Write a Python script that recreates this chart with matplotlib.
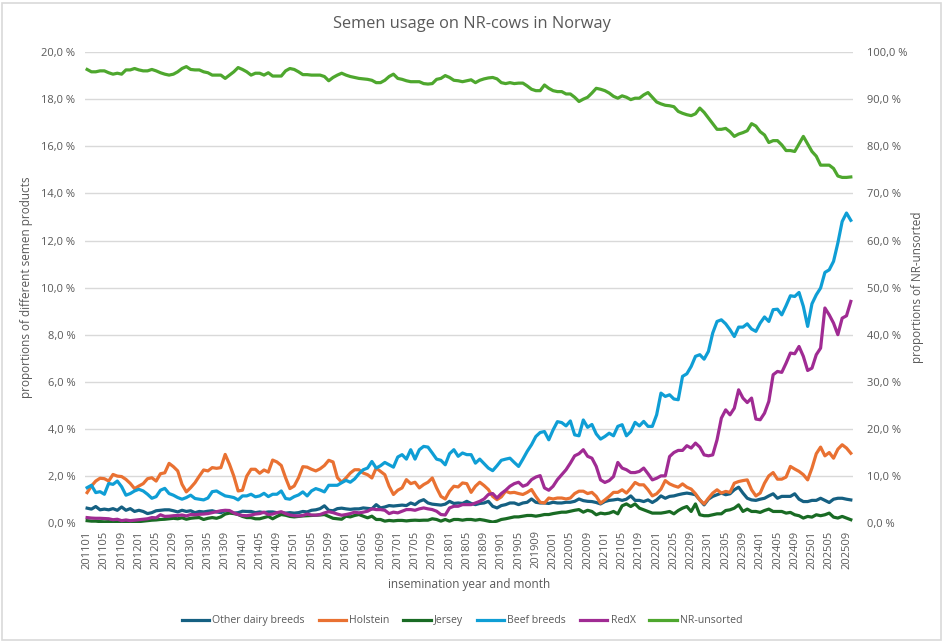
import pandas as pd
import matplotlib
matplotlib.use('Agg')
import matplotlib.pyplot as plt
from matplotlib.patches import Rectangle
from matplotlib.ticker import FuncFormatter, MultipleLocator

plt.rcParams['font.family'] = ['Open Sans', 'DejaVu Sans']

#%% data (% of inseminations)

months = [p.strftime('%Y%m') for p in pd.period_range('2011-01', '2025-10', freq='M')]

other_dairy = [
    0.65, 0.61, 0.72, 0.58, 0.61, 0.58, 0.63, 0.56, 0.70, 0.56, 0.63, 0.51,
    0.56, 0.51, 0.42, 0.46, 0.54, 0.56, 0.58, 0.58, 0.54, 0.49, 0.56, 0.51,
    0.54, 0.46, 0.51, 0.49, 0.52, 0.54, 0.49, 0.46, 0.54, 0.51, 0.44, 0.46,
    0.52, 0.51, 0.51, 0.46, 0.49, 0.46, 0.49, 0.49, 0.46, 0.46, 0.44, 0.46,
    0.44, 0.46, 0.51, 0.49, 0.56, 0.58, 0.63, 0.75, 0.56, 0.54, 0.63, 0.65,
    0.62, 0.60, 0.62, 0.62, 0.66, 0.64, 0.62, 0.80, 0.66, 0.70, 0.76, 0.74,
    0.76, 0.78, 0.76, 0.87, 0.80, 0.94, 1.01, 0.87, 0.82, 0.80, 0.78, 0.82,
    0.94, 0.85, 0.87, 0.85, 0.94, 0.85, 0.80, 0.85, 0.87, 0.94, 0.73, 0.66,
    0.76, 0.80, 0.87, 0.87, 0.80, 0.87, 0.90, 1.04, 0.90, 0.87, 0.87, 0.85,
    0.90, 0.87, 0.87, 0.90, 0.90, 0.94, 1.04, 0.97, 0.94,
    0.93, 0.89, 0.83, 0.93, 0.98, 1.00, 1.03, 0.98, 1.03, 1.17, 0.98, 0.98,
    0.93, 1.00, 0.89, 1.00, 1.17, 1.07, 1.15, 1.17, 1.22, 1.26, 1.29, 1.26,
    1.22, 1.00, 0.79, 1.03, 1.15, 1.22, 1.29, 1.22, 1.26, 1.43, 1.54, 1.29,
    1.07, 1.00, 0.98, 1.03, 1.07, 1.17, 1.26, 1.07, 1.15, 1.15, 1.15, 1.26,
    1.03, 0.93, 0.93, 0.98, 0.98, 1.07, 0.98, 0.89, 1.03, 1.07, 1.07, 1.03,
    1.00]

holstein = [
    1.31, 1.59, 1.80, 1.92, 1.90, 1.80, 2.08, 2.01, 1.99, 1.87, 1.70, 1.48,
    1.59, 1.69, 1.90, 1.94, 1.80, 2.11, 2.15, 2.55, 2.41, 2.23, 1.66, 1.34,
    1.52, 1.73, 2.01, 2.27, 2.23, 2.37, 2.34, 2.37, 2.93, 2.51, 2.01, 1.38,
    1.41, 2.01, 2.30, 2.30, 2.13, 2.27, 2.18, 2.69, 2.61, 2.46, 1.94, 1.48,
    1.59, 1.94, 2.41, 2.39, 2.30, 2.23, 2.32, 2.46, 2.68, 2.61, 1.95, 1.75,
    1.93, 2.14, 2.28, 2.28, 2.14, 2.07, 1.93, 2.35, 2.21, 2.07, 1.58, 1.23,
    1.41, 1.51, 1.86, 1.69, 1.75, 1.51, 1.65, 1.75, 1.93, 1.51, 1.15, 1.04,
    1.37, 1.58, 1.55, 1.72, 1.69, 1.32, 1.58, 1.75, 1.61, 1.44, 1.15, 1.01,
    1.13, 1.37, 1.30, 1.32, 1.27, 1.23, 1.32, 1.44, 1.15, 0.90, 0.87, 1.08,
    1.04, 1.08, 1.08, 1.04, 1.08, 1.27, 1.37, 1.37, 1.27,
    1.32, 1.15, 0.86, 1.00, 1.15, 1.32, 1.32, 1.43, 1.29, 1.50, 1.74, 1.64,
    1.64, 1.43, 1.17, 1.26, 1.46, 1.82, 1.68, 1.60, 1.54, 1.68, 1.54, 1.46,
    1.26, 1.00, 0.83, 1.07, 1.29, 1.43, 1.29, 1.36, 1.32, 1.71, 1.78, 1.82,
    1.85, 1.43, 1.17, 1.29, 1.71, 2.02, 2.16, 1.88, 1.88, 1.97, 2.42, 2.31,
    2.21, 2.07, 1.85, 2.35, 2.96, 3.24, 2.87, 3.01, 2.77, 3.15, 3.34, 3.20,
    2.98]

jersey = [
    0.12, 0.10, 0.10, 0.08, 0.07, 0.08, 0.06, 0.08, 0.05, 0.06, 0.07, 0.06,
    0.08, 0.10, 0.12, 0.14, 0.15, 0.17, 0.18, 0.20, 0.22, 0.20, 0.24, 0.18,
    0.22, 0.24, 0.25, 0.17, 0.22, 0.25, 0.22, 0.28, 0.40, 0.44, 0.42, 0.38,
    0.30, 0.25, 0.25, 0.20, 0.20, 0.25, 0.30, 0.20, 0.30, 0.38, 0.35, 0.30,
    0.28, 0.30, 0.32, 0.33, 0.34, 0.35, 0.36, 0.38, 0.30, 0.22, 0.20, 0.18,
    0.31, 0.28, 0.34, 0.38, 0.31, 0.24, 0.31, 0.17, 0.17, 0.10, 0.13, 0.11,
    0.13, 0.13, 0.11, 0.13, 0.14, 0.13, 0.14, 0.14, 0.20, 0.17, 0.10, 0.17,
    0.10, 0.17, 0.17, 0.14, 0.17, 0.17, 0.14, 0.17, 0.14, 0.10, 0.06, 0.10,
    0.17, 0.20, 0.24, 0.28, 0.28, 0.31, 0.34, 0.34, 0.31, 0.34, 0.38, 0.38,
    0.42, 0.45, 0.48, 0.48, 0.52, 0.56, 0.59, 0.48, 0.56,
    0.51, 0.37, 0.44, 0.41, 0.44, 0.51, 0.41, 0.75, 0.83, 0.72, 0.83, 0.65,
    0.58, 0.51, 0.44, 0.44, 0.44, 0.47, 0.51, 0.41, 0.55, 0.65, 0.72, 0.51,
    0.83, 0.37, 0.33, 0.33, 0.37, 0.41, 0.41, 0.55, 0.58, 0.65, 0.79, 0.51,
    0.61, 0.51, 0.51, 0.47, 0.55, 0.61, 0.51, 0.51, 0.51, 0.44, 0.47, 0.37,
    0.33, 0.23, 0.30, 0.27, 0.37, 0.33, 0.37, 0.44, 0.27, 0.23, 0.30, 0.23,
    0.16]

beef = [
    1.52, 1.62, 1.31, 1.35, 1.24, 1.70, 1.66, 1.80, 1.56, 1.20, 1.27, 1.38,
    1.45, 1.38, 1.24, 1.07, 1.14, 1.41, 1.49, 1.27, 1.20, 1.10, 1.03, 1.10,
    1.20, 1.06, 1.03, 1.00, 1.08, 1.35, 1.38, 1.27, 1.17, 1.14, 1.10, 1.00,
    1.17, 1.17, 1.24, 1.13, 1.17, 1.28, 1.14, 1.24, 1.24, 1.38, 1.06, 1.03,
    1.14, 1.21, 1.34, 1.17, 1.38, 1.48, 1.42, 1.34, 1.62, 1.62, 1.62, 1.73,
    1.83, 1.75, 1.89, 2.11, 2.28, 2.35, 2.63, 2.35, 2.45, 2.59, 2.49, 2.39,
    2.82, 2.92, 2.73, 3.13, 2.73, 3.13, 3.27, 3.24, 2.99, 2.73, 2.68, 2.49,
    2.96, 3.13, 2.85, 2.99, 2.92, 2.92, 2.56, 2.73, 2.54, 2.35, 2.24, 2.45,
    2.68, 2.73, 2.77, 2.59, 2.42, 2.73, 3.06, 3.34, 3.69, 3.86, 3.90, 3.55,
    3.97, 4.32, 4.28, 4.14, 4.35, 3.76, 3.72, 4.39, 4.08,
    4.20, 3.80, 3.58, 3.69, 3.83, 3.72, 4.12, 4.19, 3.72, 3.90, 4.29, 4.14,
    4.33, 4.12, 4.12, 4.61, 5.53, 5.39, 5.46, 5.28, 5.25, 6.24, 6.35, 6.66,
    7.09, 7.16, 6.97, 7.30, 8.08, 8.57, 8.64, 8.47, 8.22, 7.93, 8.33, 8.33,
    8.47, 8.25, 8.15, 8.50, 8.76, 8.57, 9.07, 9.09, 8.85, 9.24, 9.66, 9.63,
    9.80, 9.21, 8.36, 9.32, 9.70, 9.99, 10.65, 10.76, 11.12, 11.90, 12.81, 13.17,
    12.86]

redx = [
    0.25, 0.23, 0.22, 0.22, 0.21, 0.20, 0.16, 0.18, 0.12, 0.15, 0.12, 0.14,
    0.16, 0.18, 0.20, 0.25, 0.24, 0.37, 0.30, 0.31, 0.33, 0.34, 0.36, 0.32,
    0.38, 0.37, 0.39, 0.40, 0.42, 0.46, 0.50, 0.54, 0.56, 0.55, 0.45, 0.38,
    0.34, 0.33, 0.36, 0.40, 0.42, 0.48, 0.38, 0.40, 0.46, 0.50, 0.42, 0.36,
    0.33, 0.32, 0.34, 0.40, 0.36, 0.35, 0.38, 0.45, 0.50, 0.46, 0.40, 0.35,
    0.38, 0.42, 0.48, 0.45, 0.48, 0.52, 0.62, 0.59, 0.59, 0.56, 0.42, 0.48,
    0.45, 0.52, 0.59, 0.59, 0.56, 0.62, 0.66, 0.62, 0.59, 0.52, 0.38, 0.36,
    0.66, 0.73, 0.73, 0.80, 0.80, 0.80, 0.87, 0.94, 1.04, 1.23, 1.27, 1.08,
    1.27, 1.41, 1.58, 1.69, 1.75, 1.58, 1.65, 1.86, 1.97, 2.03, 1.51, 1.41,
    1.58, 1.86, 2.07, 2.28, 2.56, 2.87, 2.96, 3.13, 2.85,
    2.77, 2.42, 1.85, 1.74, 1.82, 1.99, 2.59, 2.35, 2.28, 2.16, 2.16, 2.21,
    2.35, 2.11, 1.85, 1.92, 2.02, 2.02, 2.84, 3.01, 3.10, 3.10, 3.30, 3.20,
    3.41, 3.24, 2.91, 2.87, 2.91, 3.55, 4.47, 4.82, 4.61, 4.89, 5.67, 5.32,
    5.13, 5.32, 4.43, 4.40, 4.68, 5.18, 6.31, 6.45, 6.41, 6.80, 7.23, 7.20,
    7.51, 7.09, 6.49, 6.59, 7.16, 7.44, 9.14, 8.85, 8.50, 8.01, 8.71, 8.81,
    9.42]

# right axis
nr_unsorted = [
    96.3, 95.8, 95.8, 96.0, 96.0, 95.6, 95.3, 95.5, 95.3, 96.2, 96.2, 96.5,
    96.2, 96.0, 96.0, 96.3, 96.0, 95.6, 95.3, 95.1, 95.3, 95.8, 96.5, 96.9,
    96.3, 96.2, 96.2, 95.8, 95.6, 95.1, 95.1, 95.1, 94.4, 95.1, 95.8, 96.7,
    96.3, 95.8, 95.1, 95.5, 95.5, 95.1, 95.6, 94.9, 94.9, 94.9, 96.0, 96.5,
    96.3, 95.8, 95.2, 95.2, 95.1, 95.1, 95.1, 94.8, 93.9, 94.6, 95.1, 95.5,
    95.1, 94.8, 94.6, 94.4, 94.3, 94.2, 94.0, 93.5, 93.5, 94.0, 94.8, 95.3,
    94.4, 94.2, 93.9, 93.7, 93.7, 93.7, 93.3, 93.2, 93.3, 94.2, 94.4, 95.0,
    94.6, 94.0, 93.9, 93.7, 93.9,
    94.1, 93.5, 94.0, 94.3, 94.5, 94.6, 94.3, 93.5, 93.3, 93.5, 93.3, 93.4,
    93.4, 92.8, 92.1, 91.8, 91.8, 93.0, 92.3, 91.8, 91.6, 91.6, 91.1, 91.1,
    90.4, 89.5, 90.0, 90.4, 91.3, 92.3, 92.1, 91.8, 91.3, 90.6, 90.2, 90.7,
    90.4, 89.9, 90.2, 90.2, 90.9, 91.4, 90.4, 89.4, 89.0, 88.7, 88.6, 88.4,
    87.4, 87.0, 86.7, 86.5, 86.9, 88.1, 87.2, 86.0, 84.8, 83.6, 83.6, 83.8,
    83.1, 82.1, 82.6, 82.9, 83.3, 84.8, 84.3, 83.1, 82.4, 80.8, 81.2, 81.2,
    80.3, 79.1, 79.1, 78.9, 80.5, 82.1, 80.5, 78.9, 77.9, 76.0, 76.0, 76.0,
    75.3, 73.7, 73.4, 73.4, 73.5]

#%% plot

txt = '#595959'
grid = '#D9D9D9'
lw = 2.3

fig = plt.figure(figsize=(9.45, 6.42), dpi=100)
ax = fig.add_axes([0.0899, 0.1846, 0.8127, 0.7344])
ax2 = ax.twinx()

x = range(len(months))
l1, = ax.plot(x, other_dairy, color='#156082', lw=lw, label='Other dairy breeds')
l2, = ax.plot(x, holstein, color='#E97132', lw=lw, label='Holstein')
l3, = ax.plot(x, jersey, color='#196B24', lw=lw, label='Jersey')
l4, = ax.plot(x, beef, color='#0F9ED5', lw=lw, label='Beef breeds')
l5, = ax.plot(x, redx, color='#A02B93', lw=lw, label='RedX')
l6, = ax2.plot(x, nr_unsorted, color='#4EA72E', lw=lw, label='NR-unsorted')

pct = FuncFormatter(lambda v, p: '{:.1f} %'.format(v).replace('.', ','))

ax.set_xlim(-0.5, len(months) - 0.5)
ax.set_ylim(0, 20)
ax.yaxis.set_major_locator(MultipleLocator(2))
ax.yaxis.set_major_formatter(pct)
ax2.set_ylim(0, 100)
ax2.yaxis.set_major_locator(MultipleLocator(10))
ax2.yaxis.set_major_formatter(pct)

ax.set_xticks(list(x)[::4])
ax.set_xticklabels(months[::4], rotation=90)

ax.grid(axis='y', color=grid, lw=1.0)
ax.set_axisbelow(True)
for a in (ax, ax2):
    for s in a.spines.values():
        s.set_visible(False)
    a.tick_params(length=0, colors=txt, labelsize=8)
ax.tick_params(axis='x', pad=5)
ax.tick_params(axis='y', pad=7)
ax2.tick_params(axis='y', pad=10)

ax.set_ylabel('proportions of different semen products', color=txt, fontsize=8.5)
ax.yaxis.set_label_coords(-0.068, 0.5)
ax2.set_ylabel('proportions of NR-unsorted', color=txt, fontsize=8.5)
ax2.yaxis.set_label_coords(1.076, 0.5)
ax.set_xlabel('insemination year and month', color=txt, fontsize=8.5)
ax.xaxis.set_label_coords(0.5, -0.115)

fig.text(0.4995, 0.962, 'Semen usage on NR-cows in Norway', ha='center', va='center',
         color=txt, fontsize=11.8)

fig.legend(handles=[l1, l2, l3, l4, l5, l6], loc='center', bbox_to_anchor=(0.489, 0.033),
           ncol=6, frameon=False, fontsize=7.6, labelcolor=txt, handlelength=2.6,
           handletextpad=0.3, columnspacing=1.3)

fig.patches.append(Rectangle((0.002, 0.003), 0.994, 0.993, transform=fig.transFigure,
                             fill=False, edgecolor=grid, lw=1.2))

fig.savefig('out.png', dpi=100)
